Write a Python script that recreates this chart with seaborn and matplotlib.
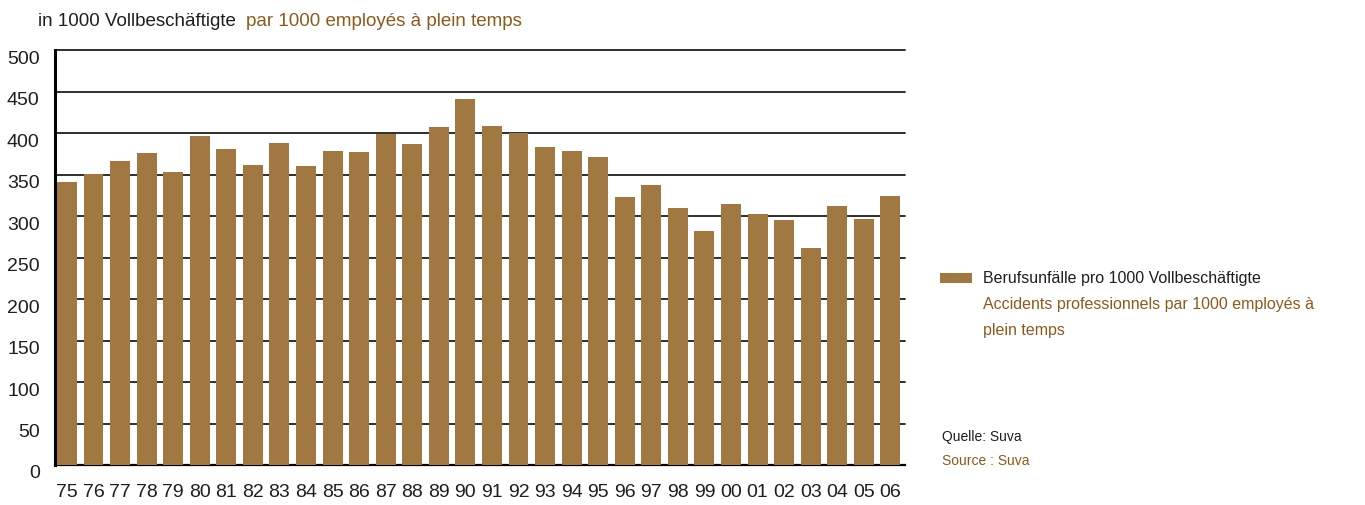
import pandas as pd
import matplotlib.pyplot as plt
import matplotlib.transforms as mtransforms
import seaborn as sns

# Daten (Berufsunfälle pro 1000 Vollbeschäftigte)
years = ['75', '76', '77', '78', '79', '80', '81', '82', '83', '84', '85', '86', '87', '88', '89', '90',
         '91', '92', '93', '94', '95', '96', '97', '98', '99', '00', '01', '02', '03', '04', '05', '06']
values = [341, 351, 366, 376, 353, 396, 381, 361, 388, 360, 378, 377, 399, 387, 407, 441,
          408, 400, 383, 378, 371, 323, 337, 310, 282, 314, 302, 295, 261, 312, 296, 324]
yticks = [0, 50, 100, 150, 200, 250, 300, 350, 400, 450, 500]

bar_color = '#a27842'
brown = '#8b5a1e'
dark = '#1e1e1e'

sns.set_style('white')
plt.rcParams['font.family'] = ['Liberation Sans Narrow', 'Liberation Sans', 'DejaVu Sans']

df = pd.DataFrame({'Jahr': years, 'Wert': values})

fig = plt.figure(figsize=(13.65, 5.05), dpi=100)
ax = fig.add_axes([55 / 1365, 1 - 465 / 505, 850 / 1365, 415 / 505])

sns.barplot(data=df, x='Jahr', y='Wert', color=bar_color, saturation=1, width=0.75, linewidth=0,
            label='Berufsunfälle pro 1000 Vollbeschäftigte', ax=ax, zorder=3)

ax.set_xlim(-0.45, 31.55)
ax.set_ylim(0, 500)
ax.set_yticks(yticks)
ax.set_xlabel('')
ax.set_ylabel('')
ax.yaxis.grid(True, color=dark, linewidth=1.3, zorder=0)
for gl in ax.get_ygridlines():
    gl.set_clip_on(False)
ax.set_axisbelow(True)
for s in ['top', 'right']:
    ax.spines[s].set_visible(False)
ax.spines['left'].set_color('black')
ax.spines['left'].set_linewidth(2.2)
ax.spines['bottom'].set_color('black')
ax.spines['bottom'].set_linewidth(1.6)
ax.tick_params(axis='y', length=0, pad=11, labelsize=14, labelcolor=dark)
ax.tick_params(axis='x', length=0, pad=14, labelsize=14, labelcolor=dark)

# Y-Beschriftungen etwas nach unten versetzt
shift = mtransforms.ScaledTranslation(0, -7 / 100, fig.dpi_scale_trans)
for lab in ax.get_yticklabels():
    lab.set_transform(lab.get_transform() + shift)

# Titel zweisprachig
t1 = fig.text(38 / 1365, 1 - 22 / 505, 'in 1000 Vollbeschäftigte', fontsize=13.5, color=dark,
              ha='left', va='center')
ax.annotate('par 1000 employés à plein temps', xy=(1, 0.5), xycoords=t1, xytext=(7, 0),
            textcoords='offset points', fontsize=13.5, color=brown, ha='left', va='center')

# Legende
ax.legend(loc='center left', bbox_to_anchor=(940 / 1365, 1 - 279 / 505), bbox_transform=fig.transFigure,
          frameon=False, fontsize=11.5, labelcolor=dark, handlelength=2.0, handleheight=0.65,
          handletextpad=0.7, borderpad=0, borderaxespad=0)
fig.text(983 / 1365, 1 - 305 / 505, 'Accidents professionnels par 1000 employés à', fontsize=11.5,
         color=brown, ha='left', va='center')
fig.text(983 / 1365, 1 - 331 / 505, 'plein temps', fontsize=11.5, color=brown, ha='left', va='center')

# Quelle
fig.text(942 / 1365, 1 - 437 / 505, 'Quelle: Suva', fontsize=10, color=dark, ha='left', va='center')
fig.text(942 / 1365, 1 - 461 / 505, 'Source : Suva', fontsize=10, color=brown, ha='left', va='center')

fig.savefig('out.png', dpi=100)
